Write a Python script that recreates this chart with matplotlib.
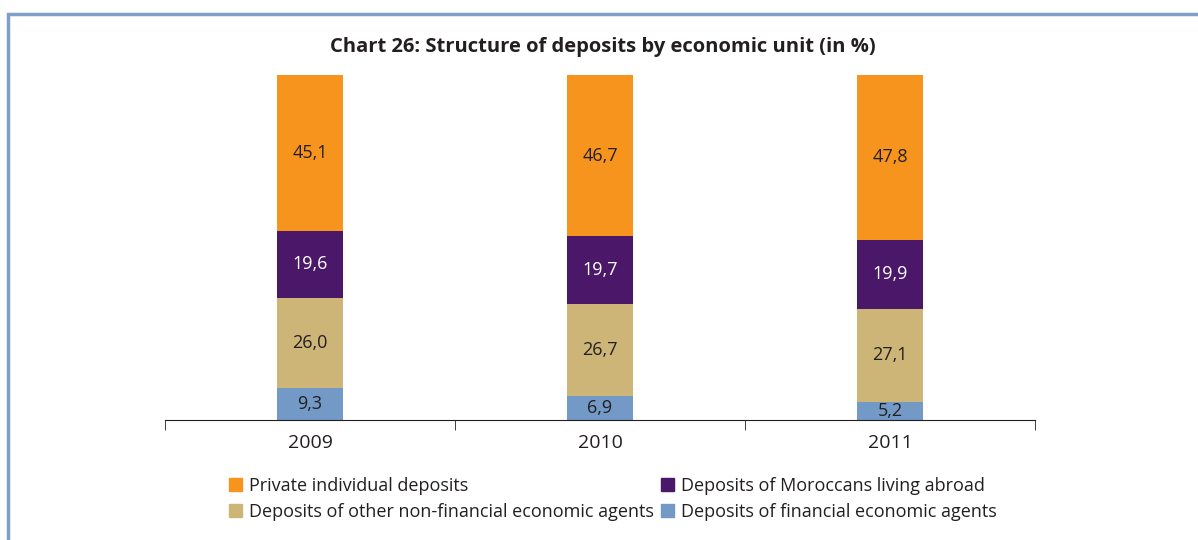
import matplotlib.pyplot as plt
from matplotlib.patches import Patch, Rectangle

years = ['2009', '2010', '2011']
financial = [9.3, 6.9, 5.2]
other_non_financial = [26.0, 26.7, 27.1]
moroccans_abroad = [19.6, 19.7, 19.9]
private_individual = [45.1, 46.7, 47.8]

plt.rcParams['font.family'] = ['Open Sans', 'DejaVu Sans']

fig = plt.figure(figsize=(11.98, 5.4), dpi=100)
ax = fig.add_axes([165 / 1198, 1 - 420 / 540, 870 / 1198, 345 / 540])

# stacked from bottom to top
series = [
    (financial, '#7399C6', '#231F20', 'Deposits of financial economic agents'),
    (other_non_financial, '#CDB477', '#231F20', 'Deposits of other non-financial economic agents'),
    (moroccans_abroad, '#4B1869', 'white', 'Deposits of Moroccans living abroad'),
    (private_individual, '#F7941D', '#231F20', 'Private individual deposits'),
]

x = range(len(years))
bottom = [0.0] * len(years)
for vals, col, tcol, lab in series:
    bars = ax.bar(x, vals, width=0.23, bottom=bottom, color=col, label=lab)
    for xi, v, b in zip(x, vals, bottom):
        ax.text(xi, b + v / 2, f'{v:.1f}'.replace('.', ','), ha='center', va='center',
                fontsize=13, color=tcol)
    bottom = [b + v for b, v in zip(bottom, vals)]

ax.set_xlim(-0.5, 2.5)
ax.set_ylim(0, 100)
for s in ['top', 'right', 'left']:
    ax.spines[s].set_visible(False)
ax.spines['bottom'].set_color('#231F20')
ax.set_yticks([])
ax.set_xticks(list(x))
ax.set_xticklabels(years, fontsize=14, color='#231F20')
ax.tick_params(axis='x', which='major', length=0, pad=10)
ax.set_xticks([-0.5, 0.5, 1.5, 2.5], minor=True)
ax.tick_params(axis='x', which='minor', length=7, direction='out', color='#231F20')

fig.text(0.503, 1 - 47 / 540, 'Chart 26: Structure of deposits by economic unit (in %)',
         ha='center', va='center', fontsize=14.5, fontweight='bold', color='#231F20')

# legend laid out like the original (2 columns)
handles = [
    Patch(color='#F7941D', label='Private individual deposits'),
    Patch(color='#CDB477', label='Deposits of other non-financial economic agents'),
    Patch(color='#4B1869', label='Deposits of Moroccans living abroad'),
    Patch(color='#7399C6', label='Deposits of financial economic agents'),
]
fig.legend(handles=handles, ncol=2, loc='upper left', bbox_to_anchor=(229 / 1198, 1 - 477 / 540),
           frameon=False, fontsize=13, handlelength=0.7, handleheight=0.7, handletextpad=0.4,
           columnspacing=0.4, labelspacing=0.45, borderaxespad=0, borderpad=0,
           labelcolor='#231F20')

# blue frame on the top and left edge
fig.add_artist(Rectangle((8 / 1198, -0.05), 1.1, 1 - 14 / 540 + 0.05, transform=fig.transFigure,
                         fill=False, edgecolor='#7F9FCB', linewidth=2.5))

fig.savefig('out.png', dpi=100)
